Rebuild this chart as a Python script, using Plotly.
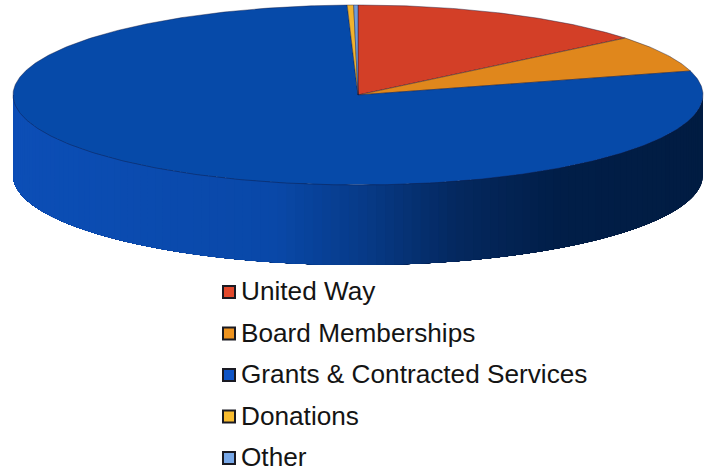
import numpy as np
import plotly.graph_objects as go

# Revenue sources and their share of the total, percent
categories = ["United Way", "Board Memberships", "Grants & Contracted Services", "Donations", "Other"]
shares = [14.1, 6.6, 78.8, 0.3, 0.2]
slice_colors = ["#D33F27", "#E0871C", "#064AA9", "#F2B32C", "#6F9BD8"]
key_colors = ["#E2492D", "#EE9420", "#0E54C6", "#F8BC30", "#78A8E8"]

# Oblique projection of the disc onto the page
CX, CY, RX, RY, DEPTH = 358.0, 95.0, 345.0, 90.0, 80.0


def rim(theta):
    """Rim point for an angle in radians, clockwise from twelve o'clock."""
    return CX + RX * np.sin(theta), CY - RY * np.cos(theta)


def side_shade(x):
    """Cylinder wall colour, darkening towards the right-hand side."""
    stops_x = [13, 280, 370, 460, 560, 703]
    r = np.interp(x, stops_x, [12, 9, 7, 4, 1, 1])
    g = np.interp(x, stops_x, [78, 72, 58, 40, 30, 28])
    b = np.interp(x, stops_x, [182, 168, 135, 95, 72, 66])
    return f"rgb({r:.0f},{g:.0f},{b:.0f})"


fig = go.Figure()

# Cylinder wall: each band runs on to the left end and the next one paints
# over it, so neighbouring bands leave no seams
FRONT_END = 3 * np.pi / 2
for a in np.linspace(np.pi / 2, FRONT_END, 121)[:-1]:
    t = np.linspace(a, FRONT_END, 60)
    xs, ys = rim(t)
    fig.add_trace(go.Scatter(
        x=np.r_[xs, xs[::-1], xs[0]], y=np.r_[ys, ys[::-1] + DEPTH, ys[0]],
        mode="none", fill="toself", fillcolor=side_shade(xs[0]),
        hoverinfo="skip", showlegend=False,
    ))

# Top face wedges, accumulated clockwise from twelve o'clock
total = sum(shares)
start = 0.0
for name, share, colour in zip(categories, shares, slice_colors):
    stop = start + share / total * 2 * np.pi
    t = np.linspace(start, stop, max(3, int(share * 6)))
    rx, ry = rim(t)
    fig.add_trace(go.Scatter(
        x=np.r_[CX, rx, CX], y=np.r_[CY, ry, CY],
        mode="lines", fill="toself", fillcolor=colour,
        line=dict(color="rgba(20,25,60,0.6)", width=0.7),
        name=name, hoverinfo="name", showlegend=False,
    ))
    start = stop

# Key below the disc
key_y = np.linspace(292, 458, len(categories))
fig.add_trace(go.Scatter(
    x=[229] * len(categories), y=key_y,
    mode="markers", hoverinfo="skip", showlegend=False,
    marker=dict(symbol="square", size=12, color=key_colors,
                line=dict(color="#1A1A22", width=2)),
))
fig.add_trace(go.Scatter(
    x=[241] * len(categories), y=key_y + 1.5,
    mode="text", text=categories, textposition="middle right",
    textfont=dict(family="Liberation Sans", size=26.2, color="#141414"),
    hoverinfo="skip", showlegend=False,
))

fig.update_layout(
    width=710, height=471, margin=dict(l=0, r=0, t=0, b=0),
    paper_bgcolor="white", plot_bgcolor="white", showlegend=False,
    xaxis=dict(range=[0, 710], visible=False, fixedrange=True),
    yaxis=dict(range=[471, 0], visible=False, fixedrange=True),
)
fig.write_html("out.html", config=dict(displayModeBar=False))
